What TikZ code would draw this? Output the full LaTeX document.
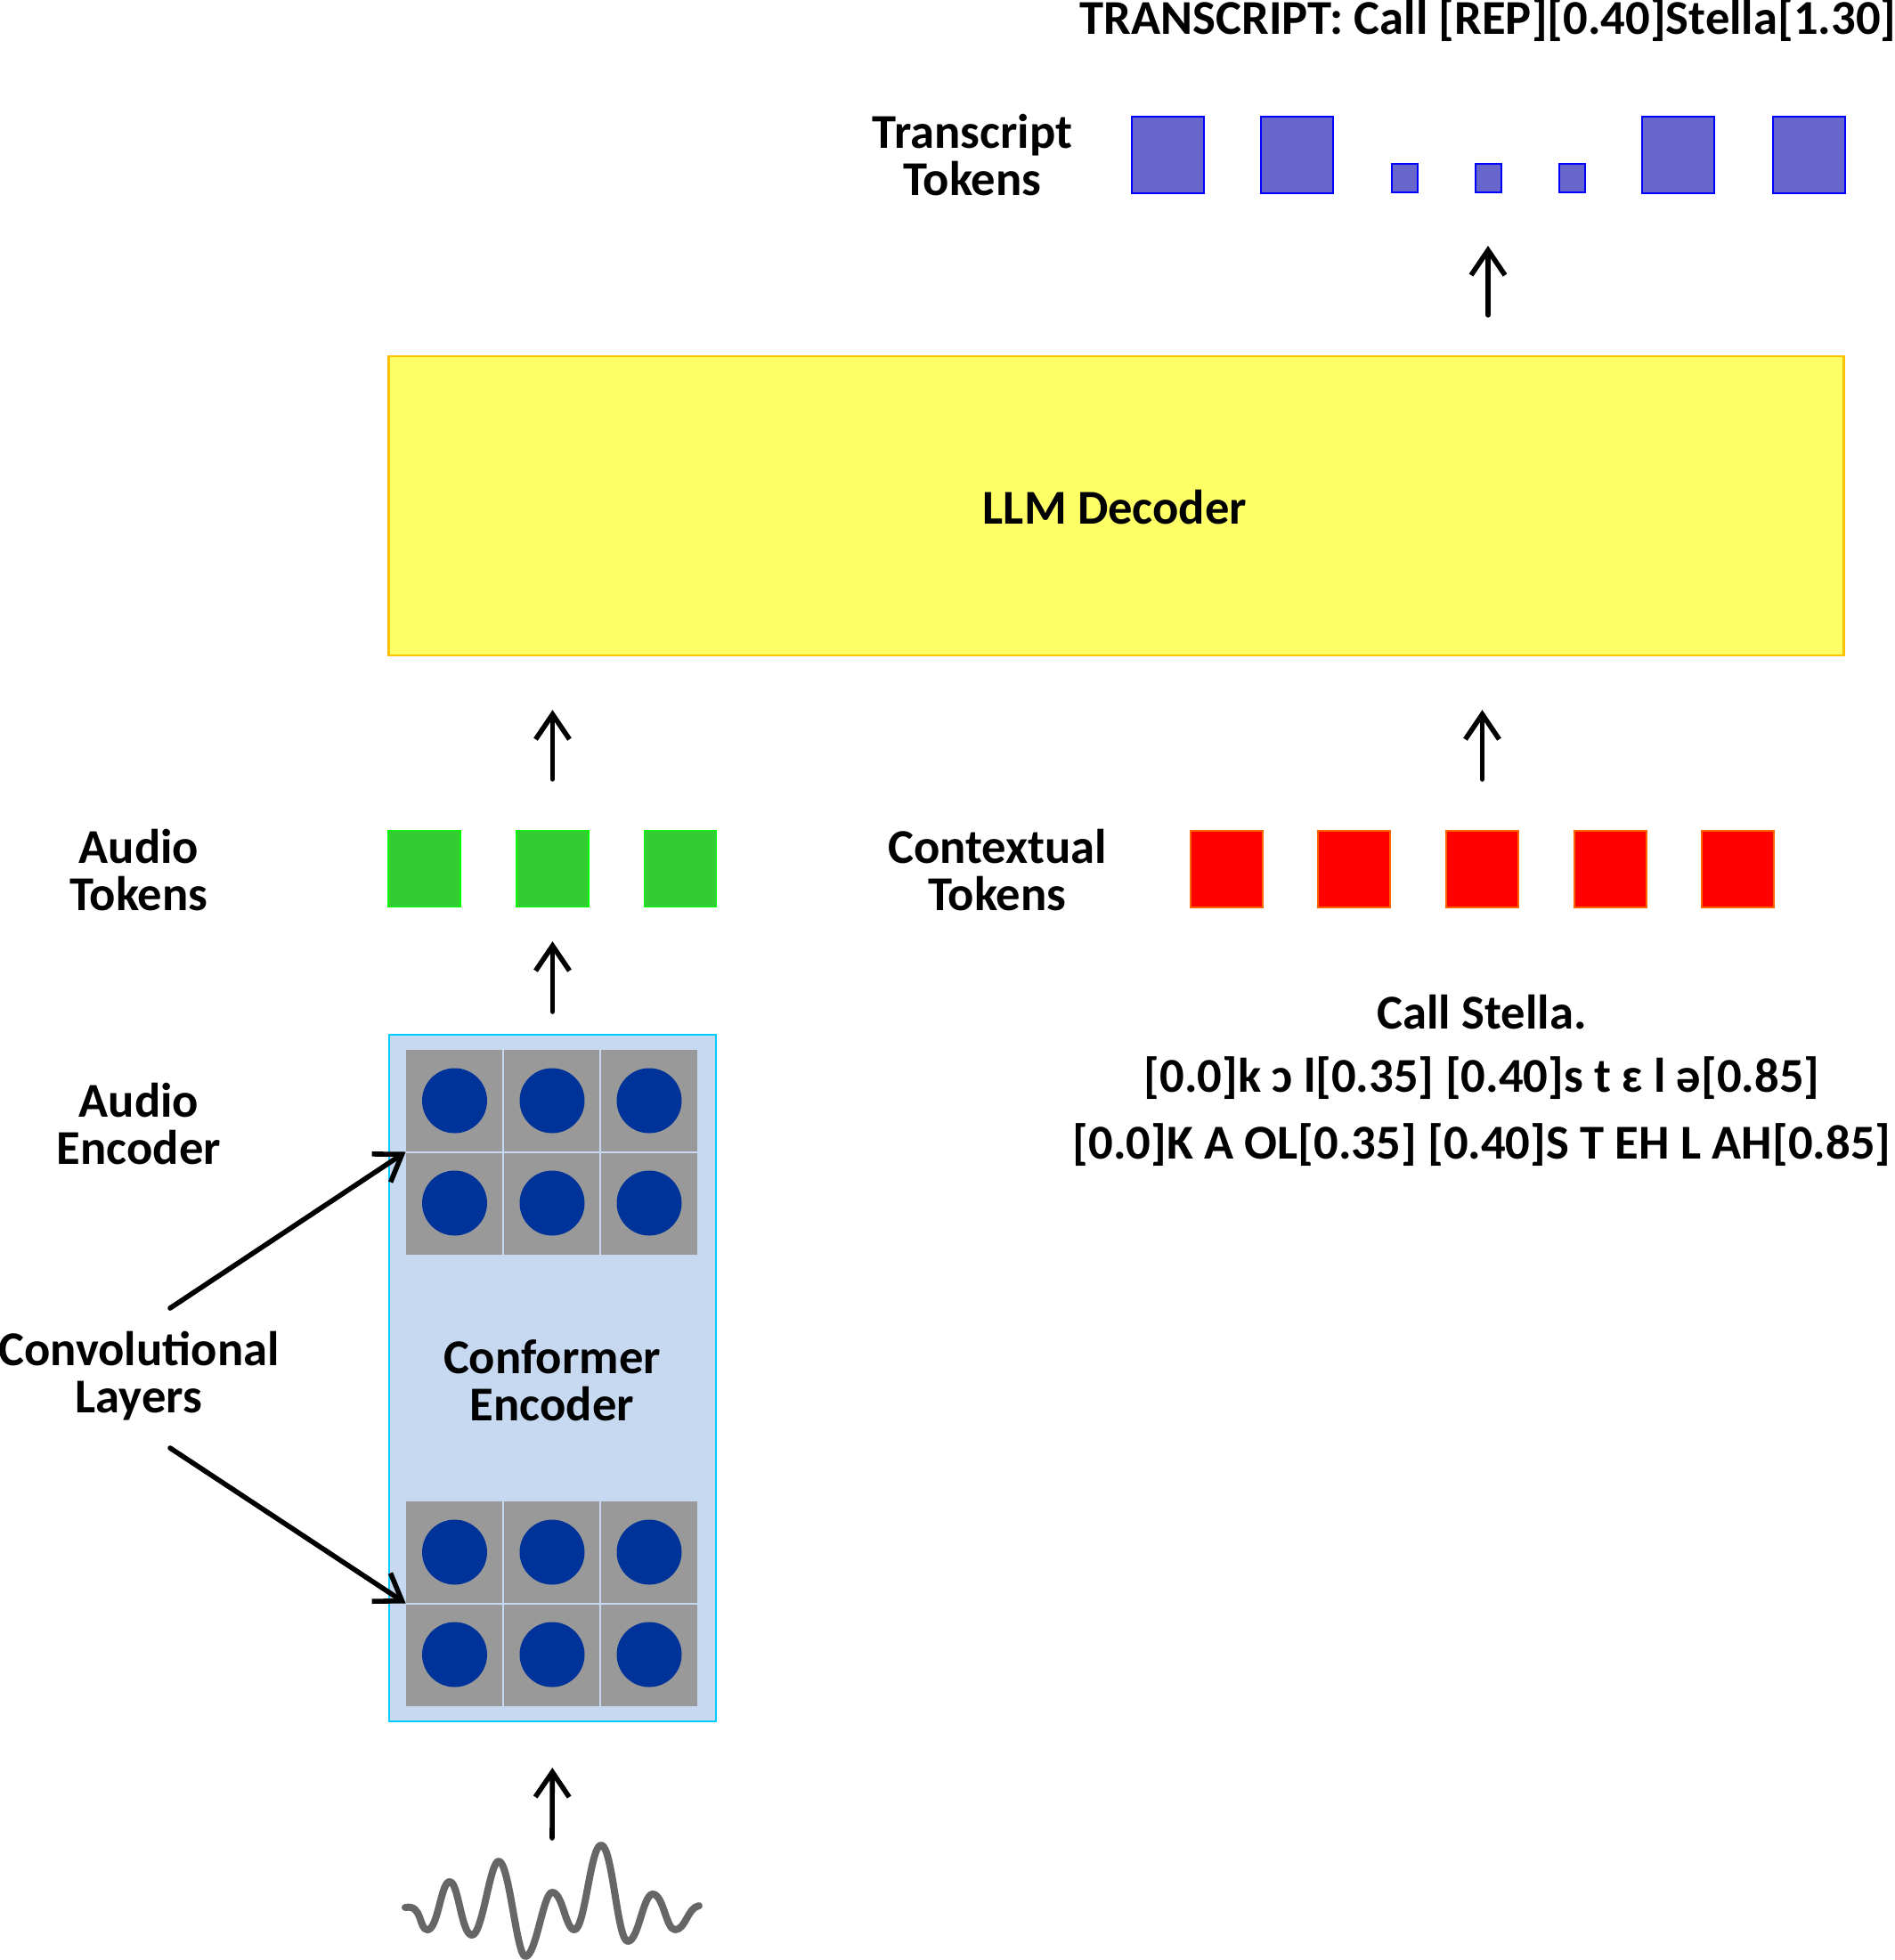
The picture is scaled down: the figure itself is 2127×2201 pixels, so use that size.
\documentclass[tikz,border=0pt]{standalone}
\usepackage{fontspec}
\setmainfont{Carlito}
\usetikzlibrary{arrows.meta,calc}
\definecolor{llmfill}{HTML}{FFFF66}
\definecolor{llmdraw}{HTML}{FFC000}
\definecolor{gfill}{HTML}{33CC33}
\definecolor{gdraw}{HTML}{00FF00}
\definecolor{rfill}{HTML}{FF0000}
\definecolor{rdraw}{HTML}{FF6600}
\definecolor{bfill}{HTML}{6666CC}
\definecolor{bdraw}{HTML}{0000FF}
\definecolor{encfill}{HTML}{C6D9F1}
\definecolor{encdraw}{HTML}{00CCFF}
\definecolor{cellgray}{HTML}{999999}
\definecolor{dotblue}{HTML}{003399}
\definecolor{wavegray}{HTML}{666666}
\begin{document}
\begin{tikzpicture}[x=0.5pt,y=-0.5pt,
  lbl/.style={font=\fontsize{27.3}{26.5}\selectfont\bfseries, align=center, inner sep=0},
  tok/.style={inner sep=0, line width=1pt, minimum width=40.5pt, minimum height=43pt},
  gtok/.style={tok, fill=gfill, draw=gdraw, line width=0.6pt},
  rtok/.style={tok, fill=rfill, draw=rdraw},
  btok/.style={tok, fill=bfill, draw=bdraw},
  stok/.style={btok, minimum width=14.5pt, minimum height=16pt},
  arr/.style={line width=2.8pt, line cap=round, -{Straight Barb[length=14pt,width=19pt,line width=2.8pt]}},
  grid/.style={inner sep=0, fill=cellgray, minimum width=163.5pt, minimum height=115pt},
  dot/.style={circle, fill=dotblue, inner sep=0, minimum size=36.5pt},
  sep/.style={draw=encfill, line width=1pt}
]
\useasboundingbox (0,0) rectangle (2127,2201);

% LLM decoder
\node[draw=llmdraw, fill=llmfill, line width=1.2pt, inner sep=0,
      minimum width=817pt, minimum height=168pt] (llm) at (1253.5,568) {};
\node[lbl] (llmtxt) at (1252,570) {LLM Decoder};

% transcript tokens
\node[btok] (t1) at (1311,173.5) {};
\node[btok] (t2) at (1456.5,173.5) {};
\node[stok] (t3) at (1577,200) {};
\node[stok] (t4) at (1671,200) {};
\node[stok] (t5) at (1765,200) {};
\node[btok] (t6) at (1884,173.5) {};
\node[btok] (t7) at (2031,173.5) {};
\node[lbl] (ttl) at (1092,174) {Transcript\\Tokens};
\node[lbl, anchor=base] (trans) at (1671,38) {TRANSCRIPT: Call [REP][0.40]Stella[1.30]};

% audio tokens
\node[gtok] (g1) at (476.5,975.5) {};
\node[gtok] (g2) at (620.5,975.5) {};
\node[gtok] (g3) at (764,975.5) {};
\node[lbl] (atl) at (156,977) {Audio\\Tokens};

% contextual tokens
\node[rtok] (r1) at (1377,976) {};
\node[rtok] (r2) at (1520.5,976) {};
\node[rtok] (r3) at (1664.5,976) {};
\node[rtok] (r4) at (1808,976) {};
\node[rtok] (r5) at (1951.5,976) {};
\node[lbl] (ctl) at (1120,977) {Contextual\\Tokens};

\node[lbl] (ctx1) at (1664,1137) {Call Stella.};
\node[lbl] (ctx2) at (1664,1211) {[0.0]k ɔ l[0.35] [0.40]s t ɛ l ə[0.85]};
\node[lbl] (ctx3) at (1664,1286) {[0.0]K A OL[0.35] [0.40]S T EH L AH[0.85]};

% audio encoder
\node[draw=encdraw, fill=encfill, line width=1pt, inner sep=0,
      minimum width=183.5pt, minimum height=385.5pt] (enc) at (620.5,1547.5) {};
\node[grid] (grid1) at (619.5,1293.5) {};
\node[grid] (grid2) at (619.5,1800.5) {};
\foreach \g in {grid1,grid2}{
  \draw[sep] ($(\g.north west)!1/3!(\g.north east)$) -- ($(\g.south west)!1/3!(\g.south east)$);
  \draw[sep] ($(\g.north west)!2/3!(\g.north east)$) -- ($(\g.south west)!2/3!(\g.south east)$);
  \draw[sep] (\g.west) -- (\g.east);
}
\foreach \y [count=\i] in {1236,1351,1743,1858}{
  \foreach \x [count=\j] in {510.5,620,729}{
    \node[dot] (d\i\j) at (\x,\y) {};
  }
}
\node[lbl] (conf) at (620,1550) {Conformer\\Encoder};
\node[lbl] (ael) at (156,1262) {Audio\\Encoder};
\node[lbl] (cvl) at (156,1545) {Convolutional\\Layers};

% waveform
\draw[wavegray, line width=4pt, line cap=round, line join=round]
  (455,2142) .. controls (475,2138) and (470,2167) .. (480,2167)
  .. controls (492,2167) and (495,2113) .. (505,2113)
  .. controls (515,2113) and (518,2173) .. (530,2173)
  .. controls (542,2173) and (550,2090) .. (560,2090)
  .. controls (572,2090) and (580,2197) .. (590,2197)
  .. controls (602,2197) and (610,2125) .. (620,2125)
  .. controls (632,2125) and (635,2167) .. (645,2167)
  .. controls (657,2167) and (663,2072) .. (675,2072)
  .. controls (688,2072) and (693,2180) .. (705,2180)
  .. controls (717,2180) and (722,2127) .. (733,2127)
  .. controls (745,2127) and (748,2167) .. (758,2167)
  .. controls (770,2167) and (772,2142) .. (785,2140);
\coordinate (wave) at (620,2064);

% arrows
\draw[arr, shorten >=25.5pt] (wave) -- (enc.south);
\draw[arr, shorten <=12.5pt, shorten >=19pt] (enc.north) -- (g2.south);
\draw[arr, shorten <=28.5pt, shorten >=30pt] (g2.north) -- (g2.north |- llm.south);
\draw[arr, shorten <=28.5pt, shorten >=30pt] (r3.north) -- (r3.north |- llm.south);
\draw[arr, shorten <=22.5pt, shorten >=29.5pt] (t4.north |- llm.north) -- (t4.south);
\coordinate (c1) at (191,1469);
\coordinate (c2) at (191,1626);
\draw[arr] (c1) -- (grid1.west);
\draw[arr] (c2) -- (grid2.west);
\end{tikzpicture}
\end{document}
